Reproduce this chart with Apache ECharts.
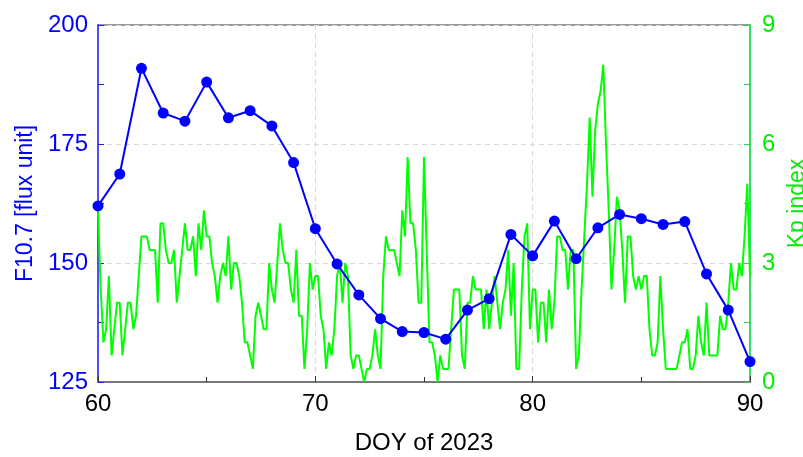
<!DOCTYPE html>
<html>
<head>
<meta charset="utf-8">
<script src="https://cdn.jsdelivr.net/npm/echarts@6/dist/echarts.min.js"></script>
<style>
html,body{margin:0;padding:0;background:#fff;}
#chart{width:803px;height:457px;}
</style>
</head>
<body>
<div id="chart"></div>
<script>
// F10.7 daily values, DOY 60..90
const f107Doy = [60,61,62,63,64,65,66,67,68,69,70,71,72,73,74,75,76,77,78,79,80,81,82,83,84,85,86,87,88,89,90];
const f107Values = [162.0,168.7,190.9,181.5,179.8,188.0,180.5,182.0,178.8,171.1,157.2,149.8,143.3,138.3,135.6,135.4,134.0,140.1,142.5,156.0,151.5,158.8,150.9,157.4,160.2,159.3,158.1,158.7,147.7,140.1,129.3];

// Kp 3-hourly values starting at DOY 60.0, step 1/8 day
const kpStartDoy = 60;
const kpStepDays = 0.125;
const kpValues = [
4.33,2.33,1.0,1.33,2.67,0.67,1.33,2.0,2.0,0.67,1.33,2.0,2.0,1.33,1.67,2.67,
3.67,3.67,3.67,3.33,3.33,3.33,2.0,4.0,4.0,3.33,3.0,3.0,3.33,2.0,2.67,3.33,
4.0,3.33,3.33,3.67,2.67,4.0,3.33,4.33,3.67,3.67,3.0,2.67,2.0,2.67,3.0,2.67,
3.67,2.33,3.0,3.0,2.67,2.0,1.0,1.0,0.67,0.33,1.67,2.0,1.67,1.33,1.33,3.0,
2.33,2.0,3.0,4.0,3.33,3.0,3.0,2.33,2.0,3.33,1.67,1.67,0.33,1.33,3.0,2.33,
2.67,2.67,1.67,1.33,0.33,1.0,0.67,1.33,2.67,3.0,2.0,3.0,2.67,0.67,0.33,0.67,
0.67,0.33,0.0,0.33,0.33,0.67,1.33,0.67,0.33,2.67,3.67,3.33,3.33,3.33,3.0,2.67,
4.33,3.67,5.67,4.0,4.0,3.33,2.0,2.0,5.67,3.33,1.0,1.0,0.67,0.0,0.67,0.33,
0.33,0.33,1.33,2.33,2.33,2.33,0.67,0.33,2.0,2.0,2.67,2.33,2.33,2.33,1.33,2.33,
1.33,2.0,2.67,2.0,1.33,2.0,2.33,3.33,1.67,3.0,0.33,0.33,2.33,3.67,4.0,1.33,
2.33,2.33,1.0,2.0,2.0,1.0,2.33,1.33,2.0,3.67,3.67,3.33,3.33,2.33,3.33,3.33,
0.33,0.67,2.33,3.67,5.0,6.67,4.67,6.33,7.0,7.33,8.0,6.0,4.33,2.33,3.33,4.67,
4.33,3.33,2.0,3.67,3.67,2.67,2.33,2.67,2.33,2.67,2.67,1.33,0.67,0.67,1.0,2.67,
1.33,0.33,0.33,0.33,0.33,0.33,0.67,1.0,1.0,1.33,0.33,0.33,0.67,1.67,1.0,0.67,
2.0,0.67,0.67,0.67,0.67,1.67,1.33,1.33,2.0,3.0,2.33,2.33,3.0,2.67,3.67,5.0,
2.67
];

const xTicks = {min: 60, max: 90, interval: 10};
const leftTicks = {min: 125, max: 200, interval: 25};
const rightTicks = {min: 0, max: 9, interval: 3};

const f107Data = f107Doy.map((d, i) => [d, f107Values[i]]);
const kpData = kpValues.map((v, i) => [kpStartDoy + i * kpStepDays, v]);

const FONT = 'Liberation Sans, Arial, sans-serif';
const chart = echarts.init(document.getElementById('chart'), null, {renderer: 'canvas'});
chart.setOption({
  animation: false,
  backgroundColor: '#fff',
  grid: {left: 98, right: 53, top: 25, bottom: 75, containLabel: false, outerBoundsMode: 'none',
         show: true, borderColor: '#333', borderWidth: 1, backgroundColor: 'transparent'},
  xAxis: {
    type: 'value', min: xTicks.min, max: xTicks.max, interval: xTicks.interval,
    name: 'DOY of 2023', nameLocation: 'middle', nameGap: 49,
    nameTextStyle: {fontSize: 24, color: '#000', fontFamily: FONT},
    axisLine: {show: true, lineStyle: {color: '#777', width: 2}},
    axisTick: {show: true, inside: true, length: 6, lineStyle: {color: '#333', width: 1}},
    minorTick: {show: true, splitNumber: 2, length: 5, lineStyle: {color: '#333', width: 1}},
    axisLabel: {fontSize: 24, color: '#000', margin: 10, fontFamily: FONT},
    splitLine: {show: true, lineStyle: {type: [5, 4], color: '#d8d8d8', width: 1}}
  },
  yAxis: [
    {
      type: 'value', position: 'left', min: leftTicks.min, max: leftTicks.max, interval: leftTicks.interval,
      name: 'F10.7 [flux unit]', nameLocation: 'middle', nameGap: 60, nameRotate: 90,
      nameTextStyle: {fontSize: 23, color: '#0000ff', fontFamily: FONT},
      axisLine: {show: true, lineStyle: {color: '#4d4dff', width: 2}},
      axisTick: {show: true, inside: true, length: 6, lineStyle: {color: '#2222ff', width: 1}},
      minorTick: {show: true, splitNumber: 2, length: 6, lineStyle: {color: '#2222ff', width: 1}},
      axisLabel: {fontSize: 24, color: '#0000ff', margin: 10, fontFamily: FONT},
      splitLine: {show: true, lineStyle: {type: [5, 4], color: '#d8d8d8', width: 1}}
    },
    {
      type: 'value', position: 'right', min: rightTicks.min, max: rightTicks.max, interval: rightTicks.interval,
      name: 'Kp index', nameLocation: 'middle', nameGap: 36, nameRotate: 90,
      nameTextStyle: {fontSize: 23, color: '#00ee00', fontFamily: FONT},
      axisLine: {show: true, lineStyle: {color: '#33dd66', width: 2}},
      axisTick: {show: true, inside: true, length: 6, lineStyle: {color: '#22dd44', width: 1}},
      minorTick: {show: true, splitNumber: 2, length: 6, lineStyle: {color: '#22dd44', width: 1}},
      axisLabel: {fontSize: 24, color: '#00ee00', margin: 12, fontFamily: FONT},
      splitLine: {show: false}
    }
  ],
  series: [
    {
      name: 'Kp', type: 'line', yAxisIndex: 1, data: kpData,
      showSymbol: false, symbol: 'none',
      lineStyle: {color: '#00ff00', width: 2}, z: 2
    },
    {
      name: 'F10.7', type: 'line', yAxisIndex: 0, data: f107Data,
      symbol: 'circle', symbolSize: 11,
      lineStyle: {color: '#0000ff', width: 2},
      itemStyle: {color: '#0000ff'}, z: 3
    }
  ]
});
</script>
</body>
</html>
